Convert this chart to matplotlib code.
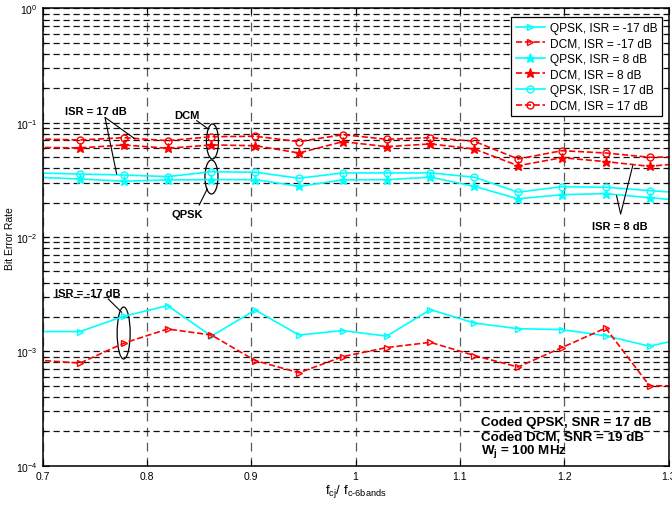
import matplotlib
matplotlib.use('Agg')
import matplotlib.pyplot as plt
from matplotlib.patches import Ellipse
from matplotlib.ticker import LogLocator, NullFormatter, FuncFormatter

plt.rcParams['font.family'] = ['Liberation Sans', 'DejaVu Sans']
plt.rcParams['mathtext.fontset'] = 'custom'
plt.rcParams['mathtext.rm'] = 'Liberation Sans'
plt.rcParams['mathtext.it'] = 'Liberation Sans:italic'
plt.rcParams['mathtext.bf'] = 'Liberation Sans:bold'

# normalised jammer centre frequency (first and last points lie just outside the axis)
freq = [0.6938, 0.7358, 0.7778, 0.8198, 0.8618, 0.9038, 0.9458, 0.9878,
        1.0298, 1.0718, 1.1138, 1.1558, 1.1978, 1.2398, 1.2818, 1.3238]

qpsk_m17 = [1.49e-3, 1.49e-3, 2.03e-3, 2.51e-3, 1.36e-3, 2.30e-3, 1.39e-3, 1.52e-3,
            1.36e-3, 2.32e-3, 1.77e-3, 1.58e-3, 1.55e-3, 1.37e-3, 1.11e-3, 1.35e-3]
dcm_m17 = [8.4e-4, 7.9e-4, 1.18e-3, 1.57e-3, 1.39e-3, 8.3e-4, 6.5e-4, 9.0e-4,
           1.08e-3, 1.20e-3, 9.2e-4, 7.3e-4, 1.08e-3, 1.6e-3, 5.0e-4, 5.0e-4]
qpsk_8 = [0.0334, 0.0322, 0.0308, 0.0316, 0.0318, 0.0318, 0.0278, 0.0316,
          0.0318, 0.0334, 0.0278, 0.0216, 0.0235, 0.0240, 0.0221, 0.0205]
dcm_8 = [0.0610, 0.0602, 0.0640, 0.0598, 0.0640, 0.0630, 0.0544, 0.0684,
         0.0618, 0.0653, 0.0590, 0.0421, 0.0495, 0.0457, 0.0416, 0.0450]
qpsk_17 = [0.0364, 0.0356, 0.0349, 0.0338, 0.0373, 0.0369, 0.0327, 0.0364,
           0.0364, 0.0364, 0.0334, 0.0247, 0.0276, 0.0273, 0.0255, 0.0240]
dcm_17 = [0.0723, 0.0707, 0.0741, 0.0697, 0.0755, 0.0762, 0.0684, 0.0787,
          0.0717, 0.0741, 0.0689, 0.0482, 0.0570, 0.0544, 0.0499, 0.0505]

labels = ['QPSK, ISR = -17 dB', 'DCM, ISR = -17 dB', 'QPSK, ISR = 8 dB',
          'DCM, ISR = 8 dB', 'QPSK, ISR = 17 dB', 'DCM, ISR = 17 dB']
xticks = [0.7, 0.8, 0.9, 1.0, 1.1, 1.2, 1.3]

fig = plt.figure(figsize=(6.72, 5.06), dpi=100)
ax = fig.add_axes([0.0635, 0.0777, 0.9313, 0.9036])

cyan = '#00FFFF'
red = '#FF0000'
series = [
    (qpsk_m17, cyan, '-', '>', 'none', 5),
    (dcm_m17, red, '--', '>', 'none', 5),
    (qpsk_8, cyan, '-', '*', None, 6.5),
    (dcm_8, red, '--', '*', None, 6.5),
    (qpsk_17, cyan, '-', 'o', 'none', 5),
    (dcm_17, red, '--', 'o', 'none', 5),
]
for i in range(len(series)):
    vals, col, ls, mk, mfc, ms = series[i]
    kw = {}
    if mfc is not None:
        kw['markerfacecolor'] = mfc
    ax.plot(freq, vals, color=col, linestyle=ls, marker=mk, markersize=ms,
            markeredgewidth=1.0, linewidth=1.2, label=labels[i], **kw)

ax.set_yscale('log')
ax.set_xlim(0.7, 1.3)
ax.set_ylim(1e-4, 1)
ax.set_xticks(xticks)
ax.xaxis.set_major_formatter(FuncFormatter(lambda v, p: '%g' % v))
ax.yaxis.set_major_locator(LogLocator(base=10, numticks=10))
ax.yaxis.set_minor_locator(LogLocator(base=10, subs=range(2, 10), numticks=20))
ax.yaxis.set_minor_formatter(NullFormatter())
ax.tick_params(which='both', direction='in', top=True, right=True, labelsize=7.5, width=0.8)
ax.tick_params(which='major', length=4)
ax.tick_params(which='minor', length=2)

ax.grid(True, which='major', axis='x', color='#5a5a5a', linestyle=(0, (7, 5)), linewidth=0.9)
ax.grid(True, which='both', axis='y', color='#111111', linestyle=(0, (5, 3)), linewidth=0.9)
for s in ax.spines.values():
    s.set_linewidth(1.1)

ax.set_xlabel(r'$\mathregular{f_{cj}/\ f_{c\text{-}6bands}}$', fontsize=9.5, labelpad=1)
ax.set_ylabel('Bit Error Rate', fontsize=7.5, labelpad=0.5)

leg = ax.legend(loc='upper right', bbox_to_anchor=(662 / 672, 1 - 18 / 506),
                bbox_transform=fig.transFigure, fontsize=8.6, frameon=True, fancybox=False,
                edgecolor='black', framealpha=1, labelspacing=0.3, handlelength=2.5,
                handletextpad=0.35, borderpad=0.4, borderaxespad=0)
leg.get_frame().set_linewidth(0.9)

# annotations
bold = dict(fontsize=8, fontweight='bold', ha='center', va='center')
ax.text(0.7511, 0.1276, 'ISR = 17 dB', **bold)
ax.plot([0.7885, 0.7597, 0.7709], [0.0722, 0.1117, 0.0357], color='black', linewidth=0.8)
ax.text(0.8384, 0.117, 'DCM', **bold)
ax.plot([0.8477, 0.8588], [0.1043, 0.0883], color='black', linewidth=0.8)
ax.text(0.8388, 0.0159, 'QPSK', **bold)
ax.plot([0.8578, 0.8501], [0.0264, 0.0191], color='black', linewidth=0.8)
ax.text(0.743, 3.24e-3, 'ISR = -17 dB', **bold)
ax.plot([0.7629, 0.7757], [2.87e-3, 2.2e-3], color='black', linewidth=0.8)
ax.text(1.2535, 0.0125, 'ISR = 8 dB', **bold)
ax.plot([1.2657, 1.2541, 1.2502], [0.0421, 0.0159, 0.0230], color='black', linewidth=0.8)

for cx, cy, w, h in [(0.2713, 0.7091, 0.0192, 0.0766),
                     (0.2697, 0.6314, 0.0208, 0.0744),
                     (0.1294, 0.2902, 0.0208, 0.1137)]:
    ax.add_patch(Ellipse((cx, cy), w, h, transform=ax.transAxes, fill=False,
                         edgecolor='black', linewidth=0.9))

ax.text(0.700, 0.089, 'Coded QPSK, SNR = 17 dB', transform=ax.transAxes,
        fontsize=9.6, fontweight='bold', va='baseline')
ax.text(0.700, 0.056, 'Coded DCM, SNR = 19 dB', transform=ax.transAxes,
        fontsize=9.6, fontweight='bold', va='baseline')
ax.text(0.700, 0.027, r'$\mathbf{W_j}$ = 100 MHz', transform=ax.transAxes,
        fontsize=9.6, fontweight='bold', va='baseline')

fig.savefig('out.png', dpi=100)
